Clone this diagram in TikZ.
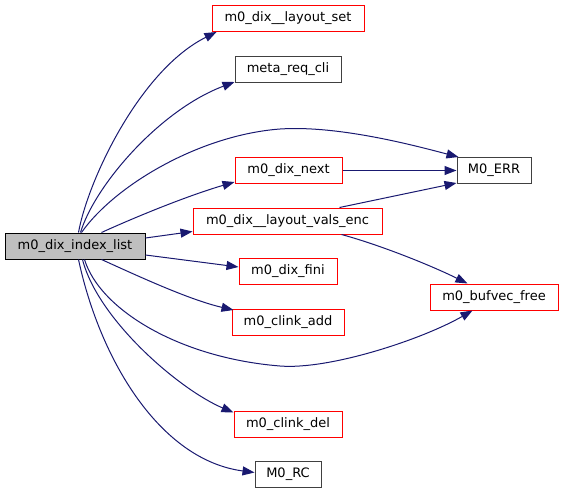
\documentclass[tikz,border=0pt]{standalone}
\usepackage{fontspec}
\setmainfont{DejaVu Sans}
\usetikzlibrary{arrows.meta,calc}
\definecolor{edgeblue}{HTML}{191970}
\definecolor{boxgray}{HTML}{404040}
\definecolor{fillgray}{HTML}{BFBFBF}
\begin{document}
\begin{tikzpicture}[x=1pt,y=-1pt,
  fn/.style={draw,rectangle,inner sep=0pt,minimum height=26pt,line width=1pt,
    font=\fontsize{13}{15}\selectfont,fill=white},
  redbox/.style={fn,draw=red},
  blackbox/.style={fn,draw=boxgray},
  rootbox/.style={fn,draw=black,fill=fillgray},
  edge/.style={draw=edgeblue,line width=1pt,-{Triangle[length=12pt,width=9pt,fill=edgeblue]}}]
\useasboundingbox (0,0) rectangle (563,493);
\node[rootbox,minimum width=140pt] (idx) at (75,246) {m0\_dix\_index\_list};
\node[redbox,minimum width=152pt] (ls) at (288,18.5) {m0\_dix\_\_layout\_set};
\node[blackbox,minimum width=106pt] (mrc) at (288,69.5) {meta\_req\_cli};
\node[redbox,minimum width=107pt] (next) at (288.5,170.5) {m0\_dix\_next};
\node[blackbox,minimum width=74pt] (err) at (494,170.5) {M0\_ERR};
\node[redbox,minimum width=189pt] (enc) at (287.5,221) {m0\_dix\_\_layout\_vals\_enc};
\node[redbox,minimum width=98pt] (fini) at (288,271.5) {m0\_dix\_fini};
\node[redbox,minimum width=128pt] (buf) at (494,297) {m0\_bufvec\_free};
\node[redbox,minimum width=112pt] (add) at (288,322.5) {m0\_clink\_add};
\node[redbox,minimum width=108pt] (del) at (288,424) {m0\_clink\_del};
\node[blackbox,minimum width=66pt] (rc) at (288,474.5) {M0\_RC};

\draw[edge] ($(idx.north west)+(74,0)$) .. controls (88,180) and (140,70) .. ($(ls.south west)+(5,0)$);
\draw[edge] ($(idx.north west)+(76,0)$) .. controls (95,185) and (160,110) .. ($(mrc.south west)+(0,-1)$);
\draw[edge] ($(idx.north west)+(77,0)$) .. controls (115,185) and (200,135) .. (280,129)
   .. controls (340,125) and (420,147) .. ($(err.north west)+(2,0)$);
\draw[edge] ($(idx.north west)+(97,0)$) .. controls (140,215) and (190,195) .. ($(next.south west)+(0,-2)$);
\draw[edge] ($(idx.east)+(0,-8)$) -- ($(enc.south west)+(0,-3)$);
\draw[edge] ($(idx.east)+(0,9)$) -- ($(fini.west)+(0,-4.5)$);
\draw[edge] ($(idx.south west)+(97,0)$) .. controls (140,277) and (190,300) .. ($(add.north west)+(2,1)$);
\draw[edge] ($(idx.south west)+(80,0)$) .. controls (100,310) and (180,358) .. (280,366)
   .. controls (330,370) and (423,339) .. ($(buf.south west)+(43,0)$);
\draw[edge] ($(idx.south west)+(78,0)$) .. controls (98,320) and (180,390) .. ($(del.north west)+(0,2)$);
\draw[edge] ($(idx.south west)+(74,0)$) .. controls (100,360) and (160,460) .. ($(rc.west)+(0,-2)$);
\draw[edge] (next.east) -- (err.west);
\draw[edge] ($(enc.north west)+(147,0)$) -- ($(err.south west)+(0,-1)$);
\draw[edge] ($(enc.south west)+(149,0)$) .. controls (380,245) and (430,265) .. ($(buf.north west)+(38,0)$);
\end{tikzpicture}
\end{document}
